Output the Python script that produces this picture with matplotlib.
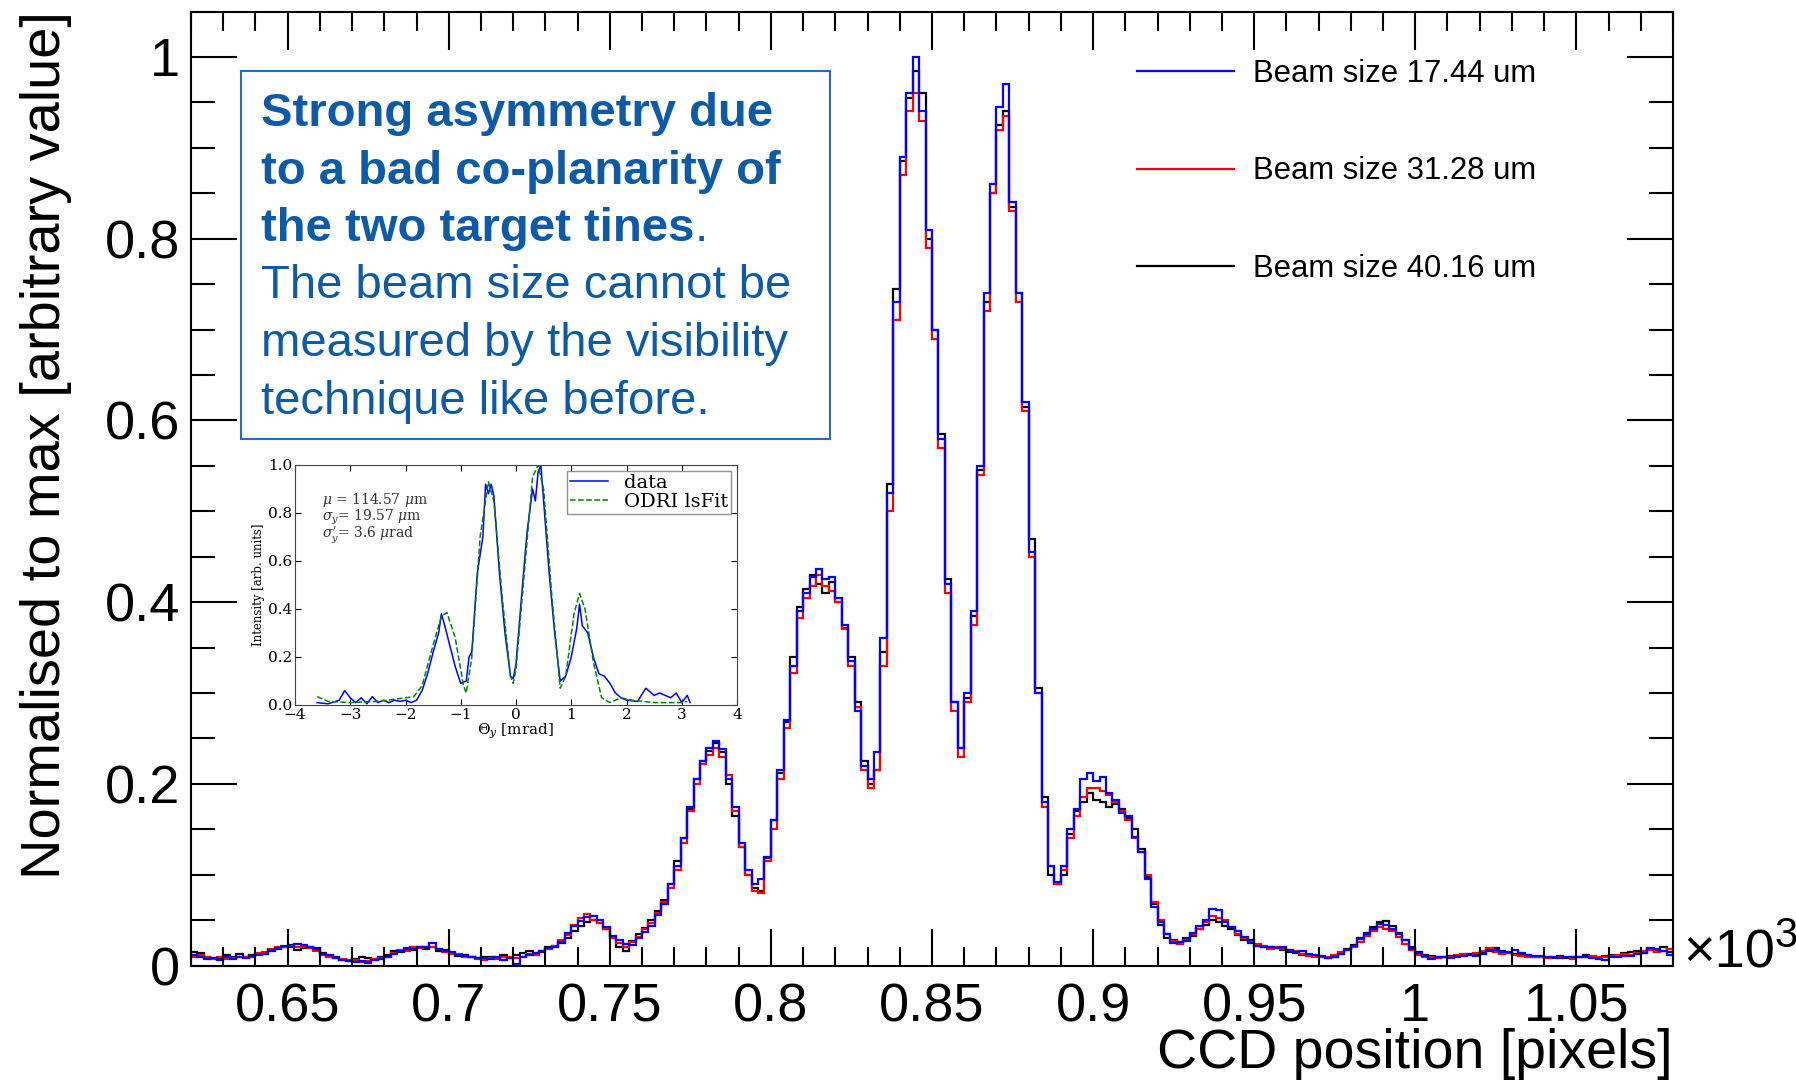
import numpy as np
import matplotlib.pyplot as plt
from matplotlib.patches import Rectangle
from matplotlib.text import Annotation
from matplotlib.ticker import MultipleLocator, FuncFormatter

plt.rcParams['font.family'] = ['Liberation Sans', 'DejaVu Sans']

# CCD profile, 2-pixel bins from 620 to 1080 (one row = 20 pixels)
bin_edges = np.arange(620, 1081, 2)

beam_17 = [
    0.012, 0.010, 0.007, 0.008, 0.006, 0.009, 0.007, 0.010, 0.008, 0.011,
    0.012, 0.013, 0.017, 0.019, 0.022, 0.021, 0.024, 0.023, 0.021, 0.018,
    0.013, 0.012, 0.008, 0.006, 0.005, 0.004, 0.005, 0.003, 0.006, 0.007,
    0.010, 0.013, 0.016, 0.019, 0.018, 0.021, 0.020, 0.025, 0.018, 0.016,
    0.015, 0.012, 0.011, 0.009, 0.008, 0.008, 0.007, 0.009, 0.006, 0.008,
    0.002, 0.010, 0.012, 0.014, 0.016, 0.019, 0.021, 0.026, 0.036, 0.044,
    0.049, 0.054, 0.055, 0.050, 0.042, 0.033, 0.028, 0.024, 0.023, 0.030,
    0.037, 0.044, 0.056, 0.068, 0.090, 0.110, 0.140, 0.175, 0.205, 0.225,
    0.240, 0.247, 0.238, 0.205, 0.175, 0.135, 0.105, 0.090, 0.095, 0.120,
    0.160, 0.215, 0.270, 0.330, 0.390, 0.410, 0.428, 0.436, 0.425, 0.428,
    0.405, 0.375, 0.335, 0.280, 0.220, 0.205, 0.235, 0.360, 0.520, 0.730,
    0.890, 0.960, 1.000, 0.940, 0.810, 0.700, 0.580, 0.420, 0.290, 0.240,
    0.300, 0.390, 0.550, 0.740, 0.860, 0.945, 0.970, 0.840, 0.740, 0.620,
    0.455, 0.300, 0.180, 0.110, 0.092, 0.110, 0.150, 0.172, 0.205, 0.212,
    0.203, 0.208, 0.190, 0.182, 0.168, 0.165, 0.142, 0.125, 0.095, 0.065,
    0.048, 0.035, 0.025, 0.026, 0.027, 0.036, 0.044, 0.050, 0.062, 0.061,
    0.048, 0.043, 0.038, 0.032, 0.025, 0.022, 0.021, 0.020, 0.019, 0.021,
    0.017, 0.015, 0.016, 0.013, 0.012, 0.011, 0.008, 0.010, 0.013, 0.017,
    0.022, 0.029, 0.035, 0.040, 0.046, 0.045, 0.040, 0.035, 0.028, 0.018,
    0.014, 0.011, 0.007, 0.009, 0.010, 0.008, 0.011, 0.011, 0.012, 0.011,
    0.013, 0.016, 0.017, 0.015, 0.015, 0.017, 0.014, 0.012, 0.011, 0.011,
    0.010, 0.009, 0.008, 0.010, 0.010, 0.010, 0.009, 0.008, 0.007, 0.006,
    0.009, 0.010, 0.011, 0.011, 0.013, 0.014, 0.019, 0.018, 0.016, 0.012,
]

beam_31 = [
    0.010, 0.012, 0.009, 0.007, 0.010, 0.007, 0.008, 0.009, 0.010, 0.010,
    0.014, 0.015, 0.018, 0.020, 0.020, 0.022, 0.021, 0.020, 0.019, 0.016,
    0.012, 0.010, 0.008, 0.007, 0.006, 0.006, 0.004, 0.005, 0.007, 0.008,
    0.010, 0.014, 0.017, 0.016, 0.020, 0.019, 0.021, 0.020, 0.018, 0.015,
    0.013, 0.013, 0.010, 0.009, 0.007, 0.006, 0.008, 0.007, 0.009, 0.010,
    0.008, 0.009, 0.013, 0.012, 0.016, 0.018, 0.022, 0.028, 0.034, 0.045,
    0.052, 0.057, 0.050, 0.047, 0.040, 0.030, 0.025, 0.020, 0.026, 0.032,
    0.040, 0.047, 0.058, 0.070, 0.085, 0.105, 0.135, 0.170, 0.200, 0.222,
    0.232, 0.240, 0.230, 0.210, 0.170, 0.130, 0.100, 0.082, 0.080, 0.115,
    0.150, 0.205, 0.262, 0.322, 0.382, 0.405, 0.418, 0.430, 0.418, 0.412,
    0.400, 0.370, 0.330, 0.285, 0.215, 0.195, 0.215, 0.330, 0.500, 0.710,
    0.870, 0.940, 0.960, 0.930, 0.790, 0.690, 0.570, 0.410, 0.280, 0.230,
    0.290, 0.375, 0.540, 0.720, 0.850, 0.920, 0.935, 0.830, 0.730, 0.610,
    0.450, 0.300, 0.175, 0.110, 0.090, 0.105, 0.140, 0.165, 0.185, 0.195,
    0.195, 0.192, 0.188, 0.180, 0.170, 0.160, 0.140, 0.125, 0.100, 0.070,
    0.050, 0.035, 0.027, 0.024, 0.028, 0.035, 0.040, 0.048, 0.055, 0.052,
    0.050, 0.042, 0.035, 0.030, 0.026, 0.024, 0.022, 0.018, 0.020, 0.018,
    0.017, 0.016, 0.013, 0.011, 0.010, 0.009, 0.009, 0.012, 0.015, 0.017,
    0.020, 0.026, 0.033, 0.038, 0.043, 0.040, 0.038, 0.032, 0.024, 0.017,
    0.012, 0.010, 0.009, 0.008, 0.009, 0.010, 0.012, 0.013, 0.012, 0.014,
    0.016, 0.019, 0.015, 0.013, 0.014, 0.012, 0.011, 0.010, 0.009, 0.009,
    0.008, 0.009, 0.010, 0.009, 0.007, 0.009, 0.010, 0.011, 0.009, 0.010,
    0.011, 0.012, 0.013, 0.012, 0.014, 0.016, 0.017, 0.015, 0.016, 0.018,
]

beam_40 = [
    0.015, 0.014, 0.010, 0.008, 0.007, 0.012, 0.010, 0.013, 0.009, 0.012,
    0.013, 0.014, 0.016, 0.018, 0.020, 0.023, 0.017, 0.019, 0.021, 0.019,
    0.014, 0.011, 0.009, 0.006, 0.005, 0.007, 0.009, 0.008, 0.006, 0.009,
    0.012, 0.016, 0.015, 0.018, 0.017, 0.020, 0.018, 0.021, 0.016, 0.017,
    0.014, 0.011, 0.012, 0.009, 0.008, 0.009, 0.010, 0.008, 0.012, 0.008,
    0.012, 0.014, 0.016, 0.013, 0.015, 0.020, 0.022, 0.025, 0.030, 0.038,
    0.044, 0.048, 0.050, 0.047, 0.040, 0.030, 0.020, 0.016, 0.027, 0.035,
    0.041, 0.050, 0.060, 0.072, 0.090, 0.115, 0.140, 0.172, 0.205, 0.225,
    0.236, 0.245, 0.235, 0.200, 0.165, 0.130, 0.100, 0.085, 0.082, 0.118,
    0.160, 0.212, 0.268, 0.340, 0.395, 0.415, 0.430, 0.420, 0.410, 0.422,
    0.400, 0.372, 0.340, 0.290, 0.225, 0.200, 0.215, 0.345, 0.530, 0.745,
    0.885, 0.955, 0.985, 0.960, 0.800, 0.700, 0.585, 0.425, 0.290, 0.240,
    0.295, 0.385, 0.545, 0.730, 0.850, 0.925, 0.940, 0.835, 0.740, 0.615,
    0.470, 0.305, 0.185, 0.100, 0.090, 0.100, 0.145, 0.170, 0.180, 0.190,
    0.182, 0.180, 0.175, 0.178, 0.172, 0.162, 0.150, 0.128, 0.098, 0.068,
    0.045, 0.030, 0.028, 0.025, 0.030, 0.033, 0.040, 0.045, 0.050, 0.048,
    0.044, 0.040, 0.034, 0.028, 0.028, 0.022, 0.020, 0.021, 0.019, 0.017,
    0.015, 0.014, 0.012, 0.012, 0.011, 0.010, 0.008, 0.010, 0.013, 0.018,
    0.023, 0.030, 0.036, 0.042, 0.048, 0.049, 0.044, 0.036, 0.028, 0.020,
    0.015, 0.012, 0.011, 0.009, 0.010, 0.011, 0.010, 0.012, 0.013, 0.012,
    0.015, 0.017, 0.019, 0.016, 0.014, 0.013, 0.012, 0.012, 0.010, 0.010,
    0.009, 0.008, 0.011, 0.008, 0.009, 0.010, 0.012, 0.010, 0.009, 0.011,
    0.012, 0.011, 0.014, 0.015, 0.016, 0.014, 0.018, 0.017, 0.020, 0.015,
]

series_labels = ["Beam size 17.44 um", "Beam size 31.28 um", "Beam size 40.16 um"]

# inset: measured ODR angular profile and fit
theta_data = [-3.6, -3.4, -3.2, -3.1, -3.0, -2.9, -2.8, -2.7, -2.6, -2.5,
              -2.4, -2.3, -2.2, -2.1, -2.0, -1.9, -1.8, -1.7, -1.6, -1.5,
              -1.4, -1.35, -1.3, -1.2, -1.1, -1.0, -0.9, -0.85, -0.8, -0.7,
              -0.6, -0.55, -0.5, -0.45, -0.4, -0.3, -0.2, -0.1, -0.05, 0.0,
              0.1, 0.2, 0.3, 0.35, 0.4, 0.45, 0.5, 0.6, 0.7, 0.8,
              0.9, 1.0, 1.1, 1.15, 1.2, 1.3, 1.4, 1.5, 1.6, 1.7,
              1.8, 1.9, 2.0, 2.2, 2.35, 2.5, 2.6, 2.8, 2.9, 3.0, 3.1, 3.15]
intensity_data = [0.01, 0.005, 0.02, 0.06, 0.03, 0.01, 0.03, 0.005, 0.035, 0.01,
                  0.02, 0.01, 0.02, 0.015, 0.02, 0.01, 0.02, 0.06, 0.13, 0.22,
                  0.30, 0.38, 0.34, 0.25, 0.16, 0.09, 0.10, 0.20, 0.22, 0.55,
                  0.70, 0.92, 0.88, 0.92, 0.87, 0.55, 0.30, 0.12, 0.11, 0.17,
                  0.45, 0.72, 0.90, 0.85, 0.97, 1.00, 0.85, 0.55, 0.30, 0.10,
                  0.12, 0.20, 0.32, 0.42, 0.33, 0.30, 0.20, 0.13, 0.12, 0.09,
                  0.05, 0.03, 0.02, 0.015, 0.07, 0.04, 0.05, 0.03, 0.05, 0.01, 0.04, 0.01]
theta_fit = [-3.6, -3.4, -3.0, -2.5, -2.0, -1.85, -1.7, -1.5, -1.35, -1.25,
             -1.1, -0.95, -0.9, -0.8, -0.65, -0.5, -0.4, -0.25, -0.1, -0.05,
             0.0, 0.15, 0.3, 0.4, 0.5, 0.65, 0.8, 0.9, 1.05, 1.15,
             1.25, 1.4, 1.55, 1.7, 1.9, 2.1, 2.5, 3.0, 3.1]
intensity_fit = [0.035, 0.015, 0.01, 0.015, 0.03, 0.035, 0.08, 0.25, 0.37, 0.385,
                 0.28, 0.08, 0.05, 0.20, 0.70, 0.93, 0.85, 0.45, 0.12, 0.09,
                 0.15, 0.55, 0.95, 1.00, 0.90, 0.45, 0.07, 0.12, 0.38, 0.465,
                 0.40, 0.18, 0.03, 0.01, 0.03, 0.02, 0.01, 0.01, 0.015]
fit_params = [r"$\mu$ = 114.57 $\mu$m", r"$\sigma_y$= 19.57 $\mu$m", r"$\sigma_y'$= 3.6 $\mu$rad"]

box_lines = [("Strong asymmetry due", "bold"),
             ("to a bad co-planarity of", "bold"),
             ("the two target tines", "bold"),
             ("The beam size cannot be", "normal"),
             ("measured by the visibility", "normal"),
             ("technique like before.", "normal")]
box_color = "#0F5AA6"

W, H = 1796, 1085
fig = plt.figure(figsize=(W / 100, H / 100), dpi=100)
ax = fig.add_axes([191 / W, 1 - 965.6 / H, (1673 - 191) / W, (965.6 - 11.5) / H])

h40 = ax.stairs(beam_40, bin_edges, color="black", lw=1.6, baseline=None)
h31 = ax.stairs(beam_31, bin_edges, color="red", lw=1.6, baseline=None)
h17 = ax.stairs(beam_17, bin_edges, color="blue", lw=1.6, baseline=None)

ax.set_xlim(620, 1080)
ax.set_ylim(0, 1.05)
ax.xaxis.set_major_locator(MultipleLocator(50))
ax.xaxis.set_minor_locator(MultipleLocator(10))
ax.yaxis.set_major_locator(MultipleLocator(0.2))
ax.yaxis.set_minor_locator(MultipleLocator(0.05))
ax.xaxis.set_major_formatter(FuncFormatter(lambda v, _: f"{v / 1000:g}"))
ax.yaxis.set_major_formatter(FuncFormatter(lambda v, _: f"{v:g}"))
ax.tick_params(which="both", direction="in", top=True, right=True, width=1.5, labelsize=39)
ax.tick_params(axis="x", which="major", length=27, pad=12)
ax.tick_params(axis="x", which="minor", length=14)
ax.tick_params(axis="y", which="major", length=33, pad=8)
ax.tick_params(axis="y", which="minor", length=17)
for sp in ax.spines.values():
    sp.set_linewidth(1.5)

ax.legend([h17, h31, h40], series_labels, loc="upper left", bbox_to_anchor=(0.638, 0.950),
          frameon=False, fontsize=22.3, handlelength=3.15, handletextpad=0.6,
          labelspacing=2.17, borderpad=0, borderaxespad=0)

# axis titles, ROOT style
fig.text(46 / W, 1 - 11 / H, "Normalised to max [arbitrary value]", rotation=90,
         ha="center", va="top", fontsize=40.3)
fig.text(1673 / W, 1 - 1054 / H, "CCD position [pixels]", ha="right", va="center", fontsize=40)
fig.text(1683 / W, 1 - 967 / H, "\u00d710", ha="left", va="baseline", fontsize=39)
fig.text(1774 / W, 1 - 947 / H, "3", ha="left", va="baseline", fontsize=30)

# annotation box
fig.patches.append(Rectangle((240.5 / W, 1 - 439 / H), (830 - 240.5) / W, (439 - 71) / H,
                             transform=fig.transFigure, facecolor="white",
                             edgecolor="#2B6CB0", lw=1.5, zorder=5))
for i, (line, weight) in enumerate(box_lines):
    y = 1 - (126 + 57.5 * i) / H
    t = fig.text(261 / W, y, line, ha="left", va="baseline", fontsize=34,
                 fontweight=weight, color=box_color, zorder=6)
    if i == 2:
        dot = Annotation(".", xy=(1, y), xycoords=(t, "figure fraction"), ha="left",
                         va="baseline", fontsize=34, color=box_color, zorder=7,
                         annotation_clip=False)
        fig.add_artist(dot)

# inset with the earlier measurement
ins = fig.add_axes([295 / W, 1 - 705 / H, 442 / W, 240 / H])
ins.plot(theta_data, intensity_data, color="blue", lw=1.1, label="data")
ins.plot(theta_fit, intensity_fit, color="green", lw=1.1, ls="--", label="ODRI lsFit")
ins.set_xlim(-4, 4)
ins.set_ylim(0, 1)
ins.xaxis.set_major_locator(MultipleLocator(1))
ins.yaxis.set_major_locator(MultipleLocator(0.2))
ins.yaxis.set_major_formatter(FuncFormatter(lambda v, _: f"{v:.1f}"))
ins.tick_params(which="both", direction="in", top=True, right=True, length=4,
                width=0.8, labelsize=11, pad=2)
for lab in ins.get_xticklabels() + ins.get_yticklabels():
    lab.set_family("DejaVu Serif")
for sp in ins.spines.values():
    sp.set_linewidth(0.8)
    sp.set_color("#444444")
ins.set_xlabel(r"$\Theta_y$ [mrad]", fontsize=11, family="DejaVu Serif",
               math_fontfamily="dejavuserif", labelpad=0)
ins.set_ylabel("Intensity [arb. units]", fontsize=8.5, family="DejaVu Serif", labelpad=2)
for k, txt in enumerate(fit_params):
    ins.text(0.06, 0.855 - 0.074 * k, txt, transform=ins.transAxes, ha="left", va="center",
             fontsize=10, family="DejaVu Serif", math_fontfamily="dejavuserif", color="#333333")
ins.legend(loc="upper right", prop={"family": "DejaVu Serif", "size": 14},
           fancybox=False, edgecolor="#777777", handlelength=2.0, handletextpad=0.8,
           labelspacing=0.05, borderpad=0.15, borderaxespad=0.3)

fig.savefig("out.png", dpi=100)
